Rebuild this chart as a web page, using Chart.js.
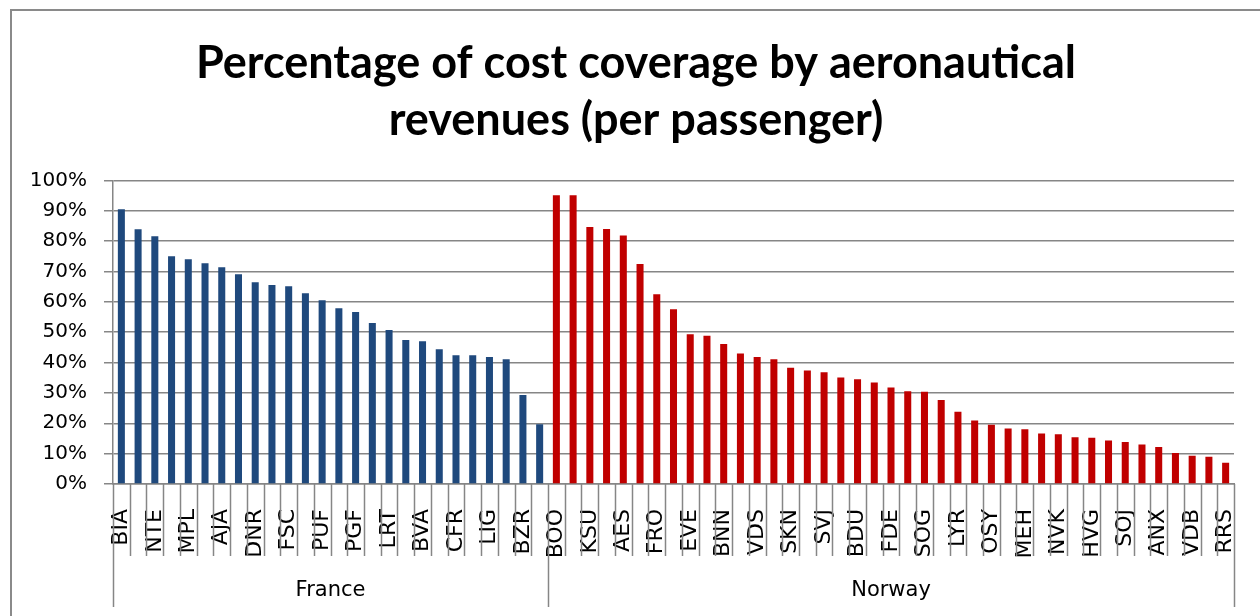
<!DOCTYPE html>
<html><head><meta charset="utf-8">
<script src="https://cdn.jsdelivr.net/npm/chart.js@4/dist/chart.umd.min.js"></script>
<style>html,body{margin:0;padding:0;background:#fff;overflow:hidden;}</style>
</head><body>
<canvas id="c" width="1260" height="616" style="display:block;width:1260px;height:616px"></canvas>
<script>
const chartTitle = ['Percentage of cost coverage by aeronautical', 'revenues (per passenger)'];
const groupNames = ['France', 'Norway'];
const franceLabels = ['BIA','','NTE','','MPL','','AJA','','DNR','','FSC','','PUF','','PGF','','LRT','','BVA','','CFR','','LIG','','BZR',''];
const franceValues = [90.5,83.9,81.6,75.0,74.0,72.7,71.4,69.1,66.4,65.5,65.1,62.8,60.5,57.9,56.6,53.0,50.7,47.4,47.0,44.4,42.4,42.4,41.8,41.1,29.3,19.7];
const norwayLabels = ['BOO','','KSU','','AES','','FRO','','EVE','','BNN','','VDS','','SKN','','SVJ','','BDU','','FDE','','SOG','','LYR','','OSY','','MEH','','NVK','','HVG','','SOJ','','ANX','','VDB','','RRS'];
const norwayValues = [95.1,95.1,84.6,84.0,81.8,72.4,62.5,57.5,49.3,48.8,46.1,43.0,41.8,41.1,38.3,37.4,36.8,35.1,34.5,33.4,31.8,30.5,30.4,27.7,23.8,20.9,19.5,18.3,18.0,16.6,16.4,15.4,15.2,14.3,13.8,13.0,12.2,10.2,9.3,9.0,7.0];
const yTicks = [0,10,20,30,40,50,60,70,80,90,100];

const labels = franceLabels.concat(norwayLabels);
const nF = franceValues.length, nN = norwayValues.length;
const franceData = franceValues.concat(new Array(nN).fill(null));
const norwayData = new Array(nF).fill(null).concat(norwayValues);
const groups = [{name: groupNames[0], start: 0, end: nF}, {name: groupNames[1], start: nF, end: nF + nN}];

const GRID = '#868686';

const framePlugin = {
  id: 'frame',
  beforeDraw(chart) {
    const ctx = chart.ctx;
    ctx.save();
    ctx.fillStyle = '#fff';
    ctx.fillRect(0, 0, chart.width, chart.height);
    ctx.strokeStyle = '#8a8a8a';
    ctx.lineWidth = 2;
    ctx.strokeRect(11, 10, chart.width + 20, chart.height + 20);
    ctx.restore();
  }
};

const groupAxisPlugin = {
  id: 'groupAxis',
  afterDraw(chart) {
    const ctx = chart.ctx, xs = chart.scales.x;
    const y0 = chart.chartArea.bottom;
    const step = xs.getPixelForValue(1) - xs.getPixelForValue(0);
    const edge = i => xs.getPixelForValue(0) + (i - 0.5) * step;
    ctx.save();
    ctx.strokeStyle = GRID;
    ctx.lineWidth = 1.5;
    const n = labels.length;
    const bounds = new Set(groups.map(g => g.start).concat([n]));
    for (let i = 0; i <= n; i++) {
      const x = Math.round(edge(i)) + 0.5;
      ctx.beginPath();
      ctx.moveTo(x, y0);
      ctx.lineTo(x, y0 + (bounds.has(i) ? 123 : 72));
      ctx.stroke();
    }
    ctx.fillStyle = '#000';
    ctx.font = '21px "DejaVu Sans"';
    ctx.textAlign = 'center';
    ctx.textBaseline = 'middle';
    groups.forEach(g => {
      const cx = (edge(g.start) + edge(g.end)) / 2;
      ctx.fillText(g.name, cx, y0 + 107);
    });
    ctx.restore();
  }
};

new Chart(document.getElementById('c'), {
  type: 'bar',
  data: {
    labels: labels,
    datasets: [
      {label: groupNames[0], data: franceData, backgroundColor: '#1F497D', grouped: false, barPercentage: 0.42, categoryPercentage: 1},
      {label: groupNames[1], data: norwayData, backgroundColor: '#C00000', grouped: false, barPercentage: 0.42, categoryPercentage: 1}
    ]
  },
  options: {
    responsive: false,
    animation: false,
    devicePixelRatio: 1,
    layout: {padding: {left: 12, right: 0, top: 0, bottom: 0}},
    plugins: {
      legend: {display: false},
      tooltip: {enabled: false},
      title: {
        display: true,
        text: chartTitle,
        color: '#000',
        font: {family: 'Lato', size: 45, weight: 'bold', lineHeight: 1.27},
        padding: {top: 35, bottom: 31}
      }
    },
    scales: {
      x: {
        type: 'category',
        offset: true,
        grid: {display: false},
        border: {display: true, color: GRID, width: 1.5},
        ticks: {autoSkip: false, maxRotation: 90, minRotation: 90, padding: 17, color: '#000', font: {family: 'DejaVu Sans', size: 22}},
        afterFit(s) { s.height = 132; s.paddingLeft = 0; s.paddingRight = 0; }
      },
      y: {
        type: 'linear',
        min: 0, max: 100,
        afterBuildTicks(s) { s.ticks = yTicks.map(v => ({value: v})); },
        ticks: {callback: v => v + '%', padding: 17, color: '#000', font: {family: 'DejaVu Sans', size: 20}},
        grid: {color: GRID, lineWidth: 1.5, tickLength: 9, drawTicks: true},
        border: {display: true, color: GRID, width: 1.5},
        afterFit(s) { s.width = 101; }
      },
      yRight: {
        type: 'linear',
        position: 'right',
        display: true,
        grid: {display: false, drawTicks: false},
        border: {display: false},
        ticks: {display: false},
        afterFit(s) { s.width = 26; }
      }
    }
  },
  plugins: [framePlugin, groupAxisPlugin]
});
</script>
</body></html>
